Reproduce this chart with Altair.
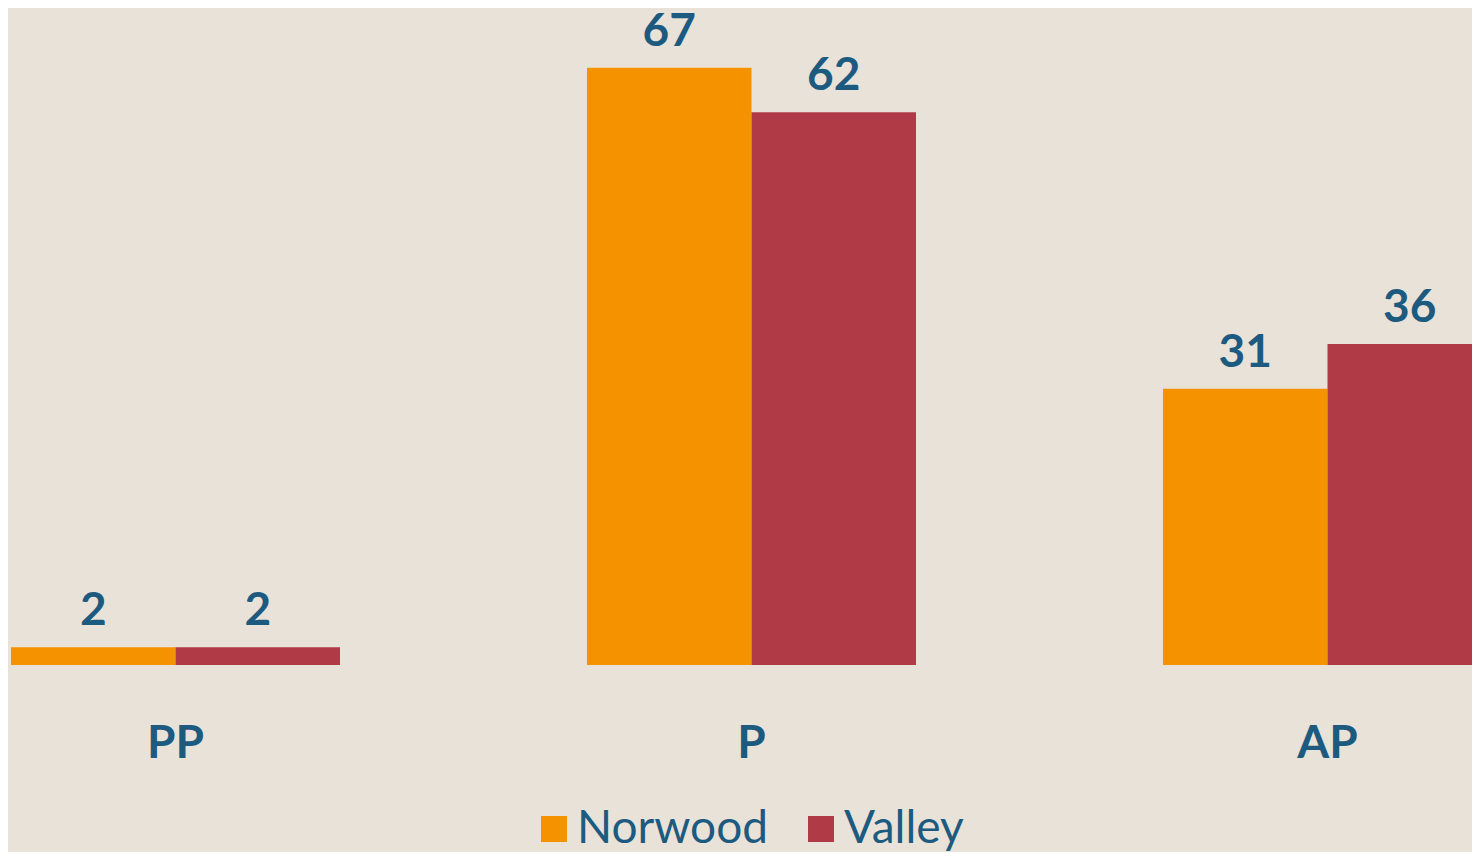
import altair as alt
import pandas as pd

categories = ["PP", "P", "AP"]
series = ["Norwood", "Valley"]
norwood = [2, 67, 31]
valley = [2, 62, 36]

colors = ["#F59200", "#B03A45"]
text_color = "#1D5A80"
bg = "#E9E2D9"
font = "Lato"

rows = []
for c, a, b in zip(categories, norwood, valley):
    rows.append({"cat": c, "series": series[0], "value": a})
    rows.append({"cat": c, "series": series[1], "value": b})
df = pd.DataFrame(rows)

x = alt.X(
    "cat:N",
    sort=categories,
    scale=alt.Scale(range=[3, 1484], paddingInner=0.4288, paddingOuter=0),
    axis=alt.Axis(
        title=None, labelAngle=0, domain=False, ticks=False, tickSize=0,
        labelFont=font, labelFontSize=46, labelFontWeight="bold",
        labelColor=text_color, labelBaseline="alphabetic", labelPadding=92,
        grid=False,
    ),
)
xo = alt.XOffset("series:N", sort=series)
y = alt.Y("value:Q", scale=alt.Scale(domain=[0, 73.7]), axis=None)

bars = alt.Chart(df).mark_bar(clip=True).encode(
    x=x, xOffset=xo, y=y,
    color=alt.Color(
        "series:N", sort=series,
        scale=alt.Scale(domain=series, range=colors),
        legend=alt.Legend(
            title=None, orient="none", direction="horizontal",
            legendX=523, legendY=798,
            symbolType="square", symbolSize=676, symbolStrokeWidth=0,
            labelFont=font, labelFontSize=46, labelColor=text_color,
            labelOffset=0, columnPadding=30, labelLimit=0,
        ),
    ),
)

labels = alt.Chart(df).mark_text(
    baseline="alphabetic", dy=-22, font=font, fontSize=46,
    fontWeight="bold", color=text_color,
).encode(x=x, xOffset=xo, y=y, text=alt.Text("value:Q"))

chart = (bars + labels).properties(
    width=1464, height=657, background=bg,
    padding={"left": 0, "top": 0, "right": 0, "bottom": 187},
    autosize=alt.AutoSizeParams(type="none"),
).configure_view(stroke=None)

chart.save("out.html", embed_options={"renderer": "svg", "actions": False})
